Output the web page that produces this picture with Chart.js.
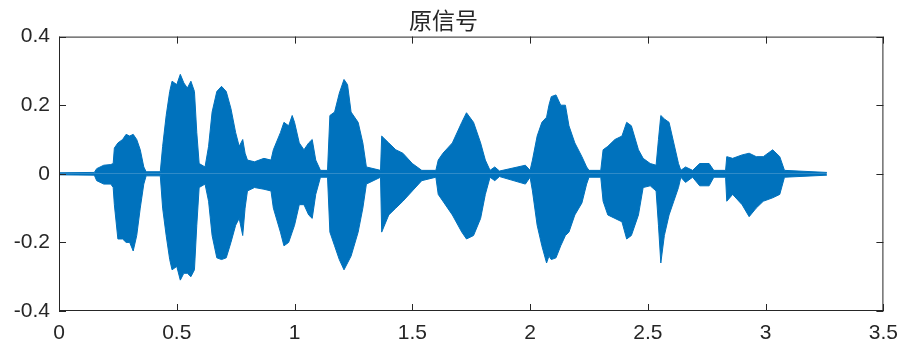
<!DOCTYPE html>
<html>
<head>
<meta charset="utf-8">
<script src="https://cdn.jsdelivr.net/npm/chart.js@4"></script>
<style>
    html, body { margin: 0; padding: 0; background: #fff; }
    #wrap { width: 908px; height: 352px; }
</style>
</head>
<body>
<div id="wrap"><canvas id="waveChart"></canvas></div>
<script>
// envelope of the waveform (time in s)
const timeSec = [
    0.00, 0.15, 0.16, 0.19, 0.22, 0.23, 0.235, 0.25, 0.27, 0.285, 0.30, 0.315, 0.33, 0.345, 0.36, 0.37,
    0.43, 0.44, 0.455, 0.47, 0.48, 0.50, 0.515, 0.53, 0.545, 0.56, 0.575, 0.585, 0.595, 0.62, 0.635, 0.65,
    0.67, 0.69, 0.71, 0.73, 0.75, 0.765, 0.78, 0.79, 0.80, 0.83, 0.87, 0.90, 0.91, 0.94, 0.955, 0.975,
    0.99, 1.00, 1.02, 1.04, 1.06, 1.075, 1.09, 1.11, 1.14, 1.15, 1.17, 1.19, 1.21, 1.225, 1.24, 1.27,
    1.29, 1.305, 1.365, 1.37, 1.40, 1.43, 1.46, 1.50, 1.54, 1.60, 1.61, 1.63, 1.67, 1.71, 1.73, 1.76,
    1.79, 1.81, 1.83, 1.85, 1.87, 1.98, 2.00, 2.01, 2.03, 2.05, 2.07, 2.08, 2.09, 2.11, 2.13, 2.15,
    2.165, 2.19, 2.22, 2.24, 2.25, 2.30, 2.31, 2.33, 2.36, 2.39, 2.41, 2.43, 2.46, 2.48, 2.51, 2.535,
    2.545, 2.555, 2.57, 2.59, 2.61, 2.63, 2.64, 2.66, 2.69, 2.72, 2.76, 2.78, 2.83, 2.835, 2.86, 2.90,
    2.93, 2.96, 2.99, 3.03, 3.06, 3.08, 3.26
];
const upperEnv = [
    0.003, 0.004, 0.015, 0.025, 0.027, 0.03, 0.075, 0.09, 0.10, 0.115, 0.11, 0.115, 0.10, 0.07, 0.02, 0.006,
    0.006, 0.08, 0.17, 0.24, 0.27, 0.26, 0.29, 0.265, 0.25, 0.27, 0.24, 0.12, 0.03, 0.02, 0.08, 0.18,
    0.24, 0.255, 0.24, 0.19, 0.12, 0.08, 0.10, 0.06, 0.04, 0.035, 0.045, 0.04, 0.07, 0.12, 0.15, 0.14,
    0.17, 0.15, 0.09, 0.07, 0.09, 0.10, 0.04, 0.01, 0.01, 0.17, 0.18, 0.235, 0.275, 0.26, 0.18, 0.15,
    0.09, 0.02, 0.01, 0.11, 0.09, 0.07, 0.06, 0.03, 0.01, 0.01, 0.04, 0.06, 0.09, 0.15, 0.178, 0.15,
    0.09, 0.04, 0.01, 0.02, 0.008, 0.025, 0.01, 0.04, 0.11, 0.15, 0.165, 0.20, 0.225, 0.23, 0.20, 0.20,
    0.14, 0.09, 0.05, 0.02, 0.01, 0.01, 0.07, 0.08, 0.10, 0.11, 0.15, 0.14, 0.07, 0.045, 0.03, 0.025,
    0.10, 0.17, 0.16, 0.15, 0.09, 0.03, 0.01, 0.02, 0.01, 0.03, 0.03, 0.01, 0.01, 0.05, 0.045, 0.055,
    0.06, 0.05, 0.05, 0.07, 0.05, 0.01, 0.004
];
const lowerEnv = [
    -0.003, -0.004, -0.02, -0.03, -0.03, -0.04, -0.09, -0.19, -0.19, -0.20, -0.20, -0.225, -0.18, -0.10, -0.03, -0.006,
    -0.006, -0.10, -0.18, -0.25, -0.28, -0.27, -0.31, -0.29, -0.29, -0.30, -0.28, -0.15, -0.04, -0.03, -0.08, -0.18,
    -0.245, -0.25, -0.245, -0.20, -0.15, -0.13, -0.18, -0.10, -0.05, -0.04, -0.045, -0.05, -0.10, -0.17, -0.21, -0.20,
    -0.17, -0.15, -0.09, -0.09, -0.12, -0.13, -0.06, -0.01, -0.01, -0.17, -0.21, -0.25, -0.28, -0.26, -0.24, -0.17,
    -0.10, -0.03, -0.01, -0.17, -0.12, -0.10, -0.08, -0.05, -0.02, -0.01, -0.06, -0.08, -0.12, -0.17, -0.19, -0.18,
    -0.13, -0.06, -0.01, -0.02, -0.008, -0.03, -0.01, -0.05, -0.15, -0.21, -0.26, -0.24, -0.25, -0.245, -0.21, -0.18,
    -0.17, -0.12, -0.085, -0.03, -0.01, -0.01, -0.08, -0.12, -0.13, -0.14, -0.19, -0.18, -0.12, -0.04, -0.035, -0.05,
    -0.15, -0.26, -0.18, -0.12, -0.08, -0.04, -0.01, -0.025, -0.01, -0.035, -0.035, -0.01, -0.01, -0.08, -0.06, -0.09,
    -0.125, -0.10, -0.08, -0.07, -0.06, -0.01, -0.004
];
const xTickValues = [0, 0.5, 1, 1.5, 2, 2.5, 3, 3.5];
const xTickLabels = ['0', '0.5', '1', '1.5', '2', '2.5', '3', '3.5'];
const yTickValues = [-0.4, -0.2, 0, 0.2, 0.4];
const yTickLabels = ['-0.4', '-0.2', '0', '0.2', '0.4'];

const lineColor = '#0072BD';
const axisColor = '#262626';
const tickFont = { family: '"Liberation Sans", Arial, sans-serif', size: 21 };

function toPoints(ys) {
    return timeSec.map((t, i) => ({ x: t, y: ys[i] }));
}

// MATLAB-like box with inward ticks on all four sides
const boxPlugin = {
    id: 'boxTicks',
    afterDraw(chart) {
        const { ctx, chartArea: a, scales } = chart;
        const len = 7;
        ctx.save();
        ctx.strokeStyle = axisColor;
        ctx.lineWidth = 1;
        ctx.strokeRect(a.left + 0.5, a.top + 0.5, a.right - a.left - 1, a.bottom - a.top - 1);
        ctx.beginPath();
        xTickValues.forEach(v => {
            const px = Math.round(scales.x.getPixelForValue(v)) + 0.5;
            ctx.moveTo(px, a.bottom); ctx.lineTo(px, a.bottom - len);
            ctx.moveTo(px, a.top); ctx.lineTo(px, a.top + len);
        });
        yTickValues.forEach(v => {
            const py = Math.round(scales.y.getPixelForValue(v)) + 0.5;
            ctx.moveTo(a.left, py); ctx.lineTo(a.left + len, py);
            ctx.moveTo(a.right, py); ctx.lineTo(a.right - len, py);
        });
        ctx.stroke();
        ctx.restore();
    }
};

function createChart() {
    const ctx = document.getElementById('waveChart');
    new Chart(ctx, {
        type: 'line',
        data: {
            datasets: [{
                label: 'upper',
                data: toPoints(upperEnv),
                borderColor: lineColor,
                backgroundColor: lineColor,
                borderWidth: 1,
                pointRadius: 0,
                fill: 'origin'
            }, {
                label: 'lower',
                data: toPoints(lowerEnv),
                borderColor: lineColor,
                backgroundColor: lineColor,
                borderWidth: 1,
                pointRadius: 0,
                fill: 'origin'
            }]
        },
        options: {
            responsive: true,
            maintainAspectRatio: false,
            animation: false,
            layout: { padding: { left: 0, right: 21, top: 0, bottom: 0 } },
            plugins: {
                legend: { display: false },
                tooltip: { enabled: false },
                title: {
                    display: true,
                    text: '原信号',
                    color: axisColor,
                    font: { family: '"Noto Sans CJK SC", sans-serif', size: 23, weight: 'normal' },
                    padding: { top: 6, bottom: 3 }
                }
            },
            scales: {
                x: {
                    type: 'linear',
                    min: 0,
                    max: 3.5,
                    grid: { display: false, drawTicks: false },
                    border: { display: false },
                    afterBuildTicks: s => { s.ticks = xTickValues.map(v => ({ value: v })); },
                    afterFit: s => { s.height = 41; },
                    ticks: {
                        color: axisColor, font: tickFont, padding: 10, maxRotation: 0,
                        callback: (v, i) => xTickLabels[i]
                    }
                },
                y: {
                    min: -0.4,
                    max: 0.4,
                    grid: { display: false, drawTicks: false },
                    border: { display: false },
                    afterBuildTicks: s => { s.ticks = yTickValues.map(v => ({ value: v })); },
                    afterFit: s => { s.width = 59; },
                    ticks: {
                        color: axisColor, font: tickFont, padding: 9,
                        callback: (v, i) => yTickLabels[i]
                    }
                }
            }
        },
        plugins: [boxPlugin]
    });
}

window.onload = () => {
    createChart();
};
</script>
</body>
</html>
